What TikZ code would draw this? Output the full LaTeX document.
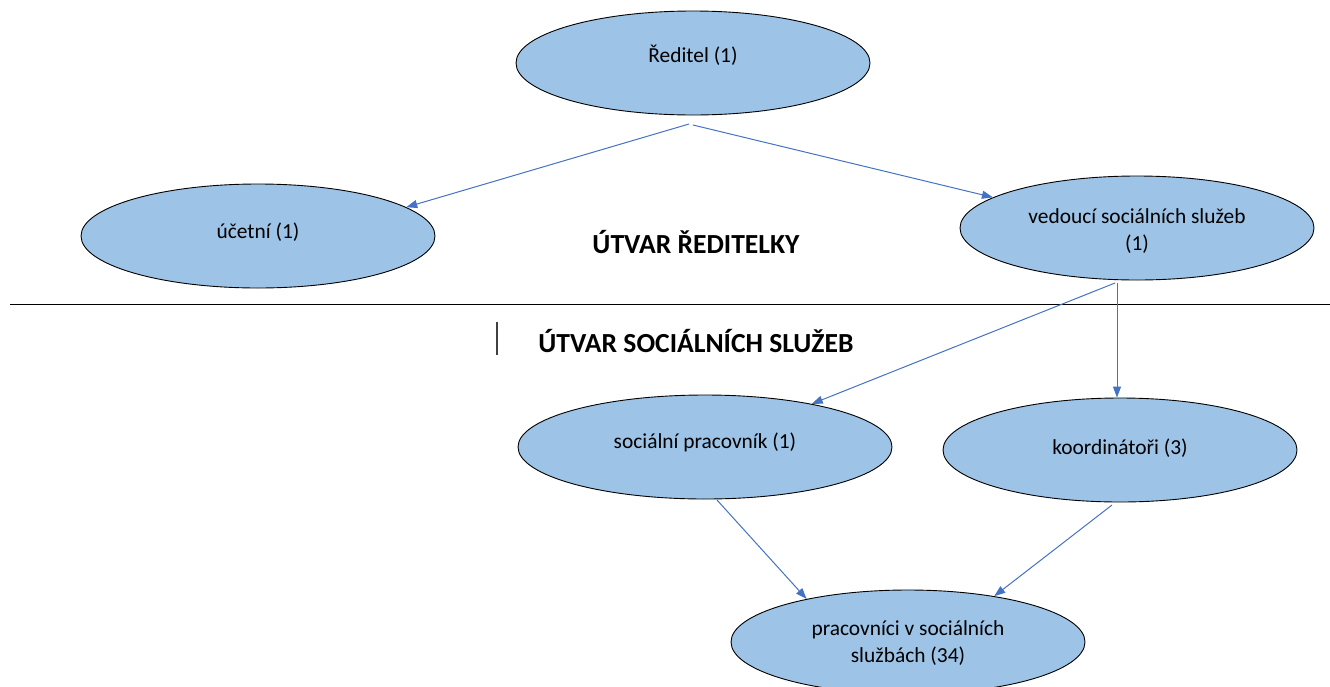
\documentclass[tikz,border=0pt]{standalone}
\usepackage{fontspec}
\setmainfont{Carlito}
\usetikzlibrary{arrows.meta,shapes.geometric}
\definecolor{ellfill}{HTML}{9DC3E6}
\definecolor{arrcol}{HTML}{4472C4}
\newcommand\nodetxt[2]{\raisebox{#1}[0pt][0pt]{#2}}
\begin{document}
\begin{tikzpicture}[x=1pt,y=-1pt,
  orgnode/.style={ellipse,draw=black,line width=0.9pt,fill=ellfill,inner sep=0pt,
    minimum width=354pt,minimum height=104pt,font=\fontsize{21.4}{26.5}\selectfont},
  conn/.style={draw=arrcol,line width=1pt,-{Triangle[length=11pt,width=8pt]}},
  heading/.style={font=\fontsize{27.6}{32}\selectfont\bfseries,inner sep=0pt}]
\useasboundingbox (0,0) rectangle (1330,686);
\node[orgnode] (red) at (693,63) {\nodetxt{1pt}{Ředitel (1)}};
\node[orgnode] (uc) at (258,236) {\nodetxt{-2pt}{účetní (1)}};
\node[orgnode] (ved) at (1137,228) {\nodetxt{-22pt}{\begin{tabular}[b]{@{}c@{}}vedoucí sociálních služeb\\(1)\end{tabular}}};
\node[orgnode,minimum width=374pt] (sp) at (705,447) {\nodetxt{-1pt}{sociální pracovník (1)}};
\node[orgnode] (ko) at (1120,450) {\nodetxt{-4pt}{koordinátoři (3)}};
\node[orgnode] (pr) at (908,642) {\nodetxt{-20pt}{\begin{tabular}[b]{@{}c@{}}pracovníci v sociálních\\službách (34)\end{tabular}}};
\node[heading] (h1) at (696,242) {ÚTVAR ŘEDITELKY};
\node[heading] (h2) at (696,341) {ÚTVAR SOCIÁLNÍCH SLUŽEB};
\draw[line width=1pt] (10,304) -- (1330,304);
\draw[line width=1.2pt,black!75] (497,322) -- (497,355);
\coordinate (rsL) at (689,124);
\coordinate (rsR) at (693,125);
\coordinate (vs1) at (1115,283);
\coordinate (vs2) at (1117,283);
\coordinate (sps) at (717,500);
\coordinate (kos) at (1112,505);
\draw[conn] (rsL) -- (uc.11);
\draw[conn] (rsR) -- (ved.168);
\draw[conn] (vs1) -- (sp.22);
\draw[conn] (vs2) -- (vs2 |- ko.north);
\draw[conn] (sps) -- (pr.157);
\draw[conn] (kos) -- (pr.28);
\end{tikzpicture}
\end{document}
